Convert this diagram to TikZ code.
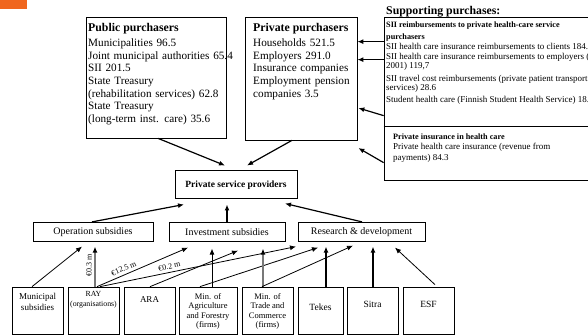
\documentclass[tikz,border=0pt]{standalone}
\usepackage{fontspec}
\setmainfont{Liberation Serif}
\usetikzlibrary{arrows.meta}
\definecolor{orng}{RGB}{240,102,30}
\definecolor{grln}{RGB}{120,120,120}
\newcommand\fsz[2]{\fontsize{#1}{#2}\selectfont}
\begin{document}
\begin{tikzpicture}[x=1pt,y=-1pt,
  box/.style={draw,line width=0.7pt,inner sep=0pt},
  txt/.style={inner sep=0pt,anchor=base west},
  ctxt/.style={inner sep=0pt,align=center},
  marr/.style={line width=1.2pt,-{Latex[length=6pt,width=5pt]}},
  tarr/.style={line width=0.8pt,-{Latex[length=6pt,width=5pt]}},
  karr/.style={line width=1.8pt,-{Latex[length=6pt,width=5pt]}},
  garr/.style={line width=1.4pt,draw=grln,-{Latex[length=6pt,width=5pt,color=black]}},
  lab/.style={inner sep=1pt,font=\fsz{8}{9}}]
\useasboundingbox (0,0) rectangle (588,336);
\clip (0,0) rectangle (588,336);
\fill[orng] (0,0) rectangle (27,9);

% top boxes
\node[box,minimum width=140pt,minimum height=121pt] (pub) at (156,77.5) {};
\node[box,minimum width=112pt,minimum height=123pt] (priv) at (301,78.5) {};
\node[box,minimum width=256pt,minimum height=163pt] (sup) at (512,98.5) {};
\draw[line width=0.7pt] (sup.west |- 0,126) -- (sup.east |- 0,126);

\node[txt,font=\bfseries\fsz{11.8}{13}] (pubT) at (88,31.5) {Public purchasers};
\node[txt,text width=160pt,align=left,font=\fsz{11.2}{12.7}] (pubB) at (88,46.5)
  {Municipalities 96.5\\Joint municipal authorities 65.4\\SII 201.5\\State Treasury\\(rehabilitation services) 62.8\\State Treasury\\(long-term inst. care) 35.6};
\node[txt,font=\bfseries\fsz{11.8}{13}] (privT) at (253,31.5) {Private purchasers};
\node[txt,text width=110pt,align=left,font=\fsz{11.2}{12.7}] (privB) at (253,46.5)
  {Households 521.5\\Employers 291.0\\Insurance companies\\Employment pension\\companies 3.5};

\node[txt,font=\bfseries\fsz{11.8}{13}] (supH) at (386,14.8) {Supporting purchases:};
\node[txt,font=\bfseries\fsz{8.2}{10}] (s1) at (386,28) {SII reimbursements to private health-care service};
\node[txt,font=\bfseries\fsz{8.2}{10}] (s2) at (386,40) {purchasers};
\node[txt,font=\fsz{9}{10}] (s3) at (386,49.5) {SII health care insurance reimbursements to clients 184.2};
\node[txt,font=\fsz{9}{10}] (s4) at (386,59.5) {SII health care insurance reimbursements to employers (in};
\node[txt,font=\fsz{9}{10}] (s5) at (386,68.5) {2001) 119,7};
\node[txt,font=\fsz{9}{10}] (s6) at (386,81.5) {SII travel cost reimbursements (private patient transport};
\node[txt,font=\fsz{9}{10}] (s7) at (386,90.5) {services) 28.6};
\node[txt,font=\fsz{9}{10}] (s8) at (386,102.5) {Student health care (Finnish Student Health Service) 18.3};
\node[txt,font=\bfseries\fsz{8.2}{10}] (p1) at (393,139.5) {Private insurance in health care};
\node[txt,font=\fsz{9}{10}] (p2) at (393,149.5) {Private health care insurance (revenue from};
\node[txt,font=\fsz{9}{10}] (p3) at (393,161) {payments) 84.3};

% providers and subsidies
\node[box,line width=1pt,minimum width=122pt,minimum height=28pt,font=\bfseries\fsz{9.5}{11}] (psp) at (236,185) {Private service providers};
\node[box,minimum width=120pt,minimum height=19.5pt,font=\fsz{10}{12}] (op) at (93,232) {Operation subsidies};
\node[box,minimum width=116pt,minimum height=19.5pt,font=\fsz{10}{12}] (inv) at (227,232) {Investment subsidies};
\node[box,minimum width=127pt,minimum height=19.5pt,font=\fsz{10}{12}] (rd) at (361.5,232) {Research \& development};

% bottom boxes
\node[box,minimum width=51pt,minimum height=47pt] (mun) at (37.5,310.5) {};
\node[box,minimum width=51pt,minimum height=47pt] (ray) at (93.5,310.5) {};
\node[box,minimum width=51pt,minimum height=47pt] (ara) at (149.5,310.5) {};
\node[box,minimum width=58pt,minimum height=47pt] (agr) at (208,310.5) {};
\node[box,minimum width=51pt,minimum height=47pt] (trd) at (267.5,310.5) {};
\node[box,minimum width=45pt,minimum height=47pt] (tek) at (320.5,310.5) {};
\node[box,minimum width=51pt,minimum height=47pt] (sit) at (372.5,310.5) {};
\node[box,minimum width=51pt,minimum height=47pt] (esf) at (428.5,310.5) {};

\node[ctxt,font=\fsz{9}{11}] (munT) at (37.5,301.5) {Municipal\\subsidies};
\node[ctxt,font=\fsz{7.8}{10}] (rayT) at (93.5,300) {RAY\\(organisations)};
\node[ctxt,font=\fsz{9}{11}] (araT) at (149.5,300) {ARA};
\node[ctxt,font=\fsz{8.5}{9.6}] (agrT) at (208,311.5) {Min. of\\Agriculture\\and Forestry\\(firms)};
\node[ctxt,font=\fsz{8.5}{9.6}] (trdT) at (267.5,311.5) {Min. of\\Trade and\\Commerce\\(firms)};
\node[ctxt,font=\fsz{9.5}{11}] (tekT) at (320.5,307) {Tekes};
\node[ctxt,font=\fsz{9.5}{11}] (sitT) at (372.5,304) {Sitra};
\node[ctxt,font=\fsz{9.5}{11}] (esfT) at (428.5,304) {ESF};

% supporting -> private purchasers
\coordinate (a1) at ([yshift=-25pt]sup.north west);
\coordinate (a2) at ([yshift=-43pt]sup.north west);
\draw[marr] (a1) -- (a1 -| priv.east);
\draw[marr] (a2) -- (a2 -| priv.east);
\draw[marr] ([yshift=-99pt]sup.north west) -- ([xshift=1pt,yshift=-29.5pt]priv.east);
\draw[marr] ([yshift=-146pt]sup.north west) -- ([xshift=1pt,yshift=-69.5pt]priv.east);

% purchasers -> providers
\draw[marr] ([xshift=2pt]pub.south) -- ([xshift=-11pt,yshift=5pt]psp.north);
\draw[marr] ([xshift=-9pt]priv.south) -- ([xshift=11pt,yshift=5pt]psp.north);

% subsidies -> providers
\draw[marr] ([xshift=-1pt]op.north) -- ([xshift=-52pt,yshift=-5pt]psp.south);
\draw[marr] (inv.north) -- ([xshift=-9pt,yshift=-5pt]psp.south);
\draw[marr] ([xshift=0.5pt]rd.north) -- ([xshift=49pt,yshift=-4pt]psp.south);

% funders -> subsidies
\draw[tarr] ([xshift=-5.5pt]mun.north) -- ([xshift=-11pt,yshift=-4.5pt]op.south);
\draw[garr] ([xshift=1.5pt]ray.north) -- node[lab,sloped,above=1.5pt,pos=0.52] (l1) {€0.3 m} ([xshift=2pt,yshift=-4.5pt]op.south);
\draw[tarr] ([xshift=3.5pt]ray.north) -- node[lab,sloped,above=2pt,pos=0.32] (l2) {€12.5 m} ([xshift=-39pt,yshift=-5.5pt]inv.south);
\draw[tarr] ([xshift=6.5pt]ray.north) -- node[lab,sloped,above=2pt,pos=0.36] (l3) {€0.2 m} ([xshift=-65.5pt,yshift=-4.5pt]rd.south);
\draw[tarr] ([xshift=0.5pt]ara.north) -- ([xshift=11pt,yshift=-8.5pt]inv.south);
\draw[tarr] ([xshift=4pt]agr.north) -- ([xshift=-15pt,yshift=-6.5pt]inv.south);
\draw[tarr] ([xshift=-8pt]agr.north) -- ([xshift=-43.5pt,yshift=-5.5pt]rd.south);
\draw[garr] ([xshift=-4.5pt]trd.north) -- ([xshift=36pt,yshift=-6.5pt]inv.south);
\draw[tarr] ([xshift=-5.5pt]trd.north) -- ([xshift=-8.5pt,yshift=-3.5pt]rd.south);
\draw[karr] ([xshift=5.5pt]tek.north) -- ([xshift=-35.5pt,yshift=-4.5pt]rd.south);
\draw[karr] ([xshift=0.5pt]sit.north) -- ([xshift=11.5pt,yshift=-4.5pt]rd.south);
\draw[tarr] ([xshift=6.5pt,yshift=2pt]esf.north) -- ([xshift=33.5pt,yshift=-5.5pt]rd.south);
\end{tikzpicture}
\end{document}
